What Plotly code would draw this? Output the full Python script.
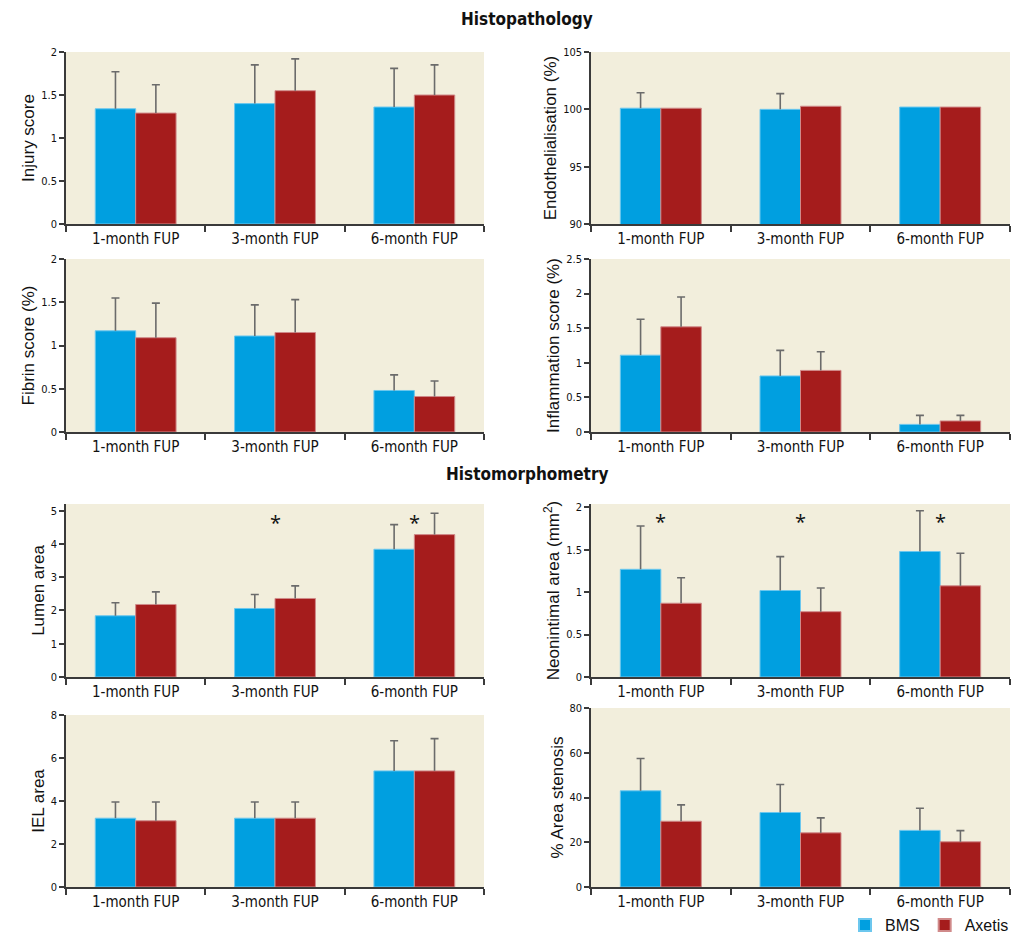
import plotly.graph_objects as go

categories = ["1-month FUP", "3-month FUP", "6-month FUP"]

# Histopathology
injury_bms = [1.34, 1.40, 1.36]
injury_bms_err = [0.43, 0.45, 0.45]
injury_axe = [1.29, 1.55, 1.50]
injury_axe_err = [0.33, 0.37, 0.35]

endo_bms = [100.1, 100.0, 100.2]
endo_bms_err = [1.35, 1.37, 0]
endo_axe = [100.1, 100.27, 100.2]
endo_axe_err = [0, 0, 0]

fibrin_bms = [1.17, 1.11, 0.48]
fibrin_bms_err = [0.38, 0.36, 0.18]
fibrin_axe = [1.09, 1.15, 0.41]
fibrin_axe_err = [0.40, 0.38, 0.18]

inflam_bms = [1.11, 0.81, 0.11]
inflam_bms_err = [0.52, 0.37, 0.13]
inflam_axe = [1.52, 0.89, 0.16]
inflam_axe_err = [0.43, 0.27, 0.08]

# Histomorphometry
lumen_bms = [1.84, 2.06, 3.84]
lumen_bms_err = [0.39, 0.42, 0.74]
lumen_axe = [2.18, 2.36, 4.28]
lumen_axe_err = [0.38, 0.38, 0.64]

neo_bms = [1.27, 1.02, 1.48]
neo_bms_err = [0.51, 0.40, 0.48]
neo_axe = [0.87, 0.77, 1.075]
neo_axe_err = [0.30, 0.28, 0.385]

iel_bms = [3.2, 3.2, 5.4]
iel_bms_err = [0.75, 0.75, 1.4]
iel_axe = [3.08, 3.2, 5.4]
iel_axe_err = [0.87, 0.75, 1.5]

sten_bms = [43.0, 33.3, 25.3]
sten_bms_err = [14.4, 12.5, 9.9]
sten_axe = [29.4, 24.2, 20.2]
sten_axe_err = [7.3, 6.7, 5.0]

panels = [
    ("Injury score", injury_bms, injury_bms_err, injury_axe, injury_axe_err, [0, 2], [0, 0.5, 1, 1.5, 2]),
    ("Endothelialisation (%)", endo_bms, endo_bms_err, endo_axe, endo_axe_err, [90, 105], [90, 95, 100, 105]),
    ("Fibrin score (%)", fibrin_bms, fibrin_bms_err, fibrin_axe, fibrin_axe_err, [0, 2], [0, 0.5, 1, 1.5, 2]),
    ("Inflammation score (%)", inflam_bms, inflam_bms_err, inflam_axe, inflam_axe_err, [0, 2.5], [0, 0.5, 1, 1.5, 2, 2.5]),
    ("Lumen area", lumen_bms, lumen_bms_err, lumen_axe, lumen_axe_err, [0, 5.2], [0, 1, 2, 3, 4, 5]),
    ("Neonintimal area (mm<sup>2</sup>)", neo_bms, neo_bms_err, neo_axe, neo_axe_err, [0, 2.04], [0, 0.5, 1, 1.5, 2]),
    ("IEL area", iel_bms, iel_bms_err, iel_axe, iel_axe_err, [0, 8], [0, 2, 4, 6, 8]),
    ("% Area stenosis", sten_bms, sten_bms_err, sten_axe, sten_axe_err, [0, 80], [0, 20, 40, 60, 80]),
]

lumen_star_cats = ["3-month FUP", "6-month FUP"]
lumen_star_y = [4.63, 4.63]
neo_star_cats = ["1-month FUP", "3-month FUP", "6-month FUP"]
neo_star_y = [1.83, 1.83, 1.83]

# page body has an 8px margin: lay out in page pixels, shifted by OFF
OFF = 8
W, H = 1033 - OFF, 939 - OFF
BLUE = "#009fe0"
RED = "#a51c1c"
BG = "#f2eedc"
AX = "#3a3a3a"
ERR = "#6b6b6b"
NARROW = "DejaVu Sans Condensed, Liberation Sans Narrow, sans-serif"
SANS = "Liberation Sans, Arial, sans-serif"

col_x = [(66, 484), (591, 1010)]
row_y = [(52, 224), (259, 432), (504, 677), (715, 887)]
row4_right = (708, 887)


def px_x(p):
    return (p - OFF) / W


def px_y(p):
    return 1 - (p - OFF) / H


fig = go.Figure()
layout = {}
for i, (title, b, be, a, ae, rng, ticks) in enumerate(panels):
    r, c = divmod(i, 2)
    n = i + 1
    xs = "" if n == 1 else str(n)
    x0, x1 = col_x[c]
    y0, y1 = row_y[r] if not (r == 3 and c == 1) else row4_right
    for name, vals, errs, color, edge in (("BMS", b, be, BLUE, "#6cc7ee"), ("Axetis", a, ae, RED, "#d08a8a")):
        # visible bar with the error whisker (no caps)
        fig.add_trace(go.Bar(
            x=categories, y=vals, name=name, offsetgroup=name,
            marker=dict(color=color, line=dict(color=edge, width=1)),
            error_y=dict(type="data", symmetric=False, array=errs, arrayminus=[0] * len(errs),
                         color=ERR, thickness=1.6, width=0),
            xaxis="x" + xs, yaxis="y" + xs, showlegend=(n == 1), legendgroup=name,
            hoverinfo="x+y"))
        # transparent bar whose zero-length error bar draws the cap at the whisker top
        tops = [v + e if e > 0 else None for v, e in zip(vals, errs)]
        fig.add_trace(go.Bar(
            x=categories, y=tops, name=name, offsetgroup=name,
            marker=dict(color="rgba(0,0,0,0)", line=dict(width=0)),
            error_y=dict(type="data", symmetric=True, array=[0] * len(errs),
                         color=ERR, thickness=1.6, width=4),
            xaxis="x" + xs, yaxis="y" + xs, showlegend=False, legendgroup=name,
            hoverinfo="skip"))
    layout["xaxis" + xs] = dict(
        domain=[px_x(x0), px_x(x1)], anchor="y" + xs, type="category", range=[-0.5, 2.5],
        showline=True, linecolor=AX, linewidth=1.5, ticks="outside", tickson="boundaries",
        ticklen=6, tickcolor=AX, tickwidth=1.5, showgrid=False, zeroline=False,
        automargin=False,
        tickfont=dict(family=NARROW, size=15, color="#111"), fixedrange=True)
    layout["yaxis" + xs] = dict(
        domain=[px_y(y1), px_y(y0)], anchor="x" + xs, range=rng, tickvals=ticks,
        showline=True, linecolor=AX, linewidth=1.5, ticks="outside", ticklen=5,
        tickcolor=AX, tickwidth=1.5, showgrid=False, zeroline=False, automargin=False,
        tickfont=dict(family=NARROW, size=11, color="#111"),
        title=dict(text=title, font=dict(family=SANS, size=17, color="#111"), standoff=2))

annotations = [
    dict(text="<b>Histopathology</b>", x=px_x(527), y=1, xref="paper", yref="paper",
         showarrow=False, font=dict(family=NARROW, size=17, color="#111"), xanchor="center", yanchor="top",
         borderpad=0),
    dict(text="<b>Histomorphometry</b>", x=px_x(527), y=px_y(474), xref="paper", yref="paper",
         showarrow=False, font=dict(family=NARROW, size=17, color="#111"), xanchor="center", yanchor="middle"),
]
for cat, yv in zip(lumen_star_cats, lumen_star_y):
    annotations.append(dict(text="*", x=cat, y=yv, xref="x5", yref="y5", showarrow=False,
                            font=dict(size=20, color="#111"), yanchor="middle"))
for cat, yv in zip(neo_star_cats, neo_star_y):
    annotations.append(dict(text="*", x=cat, y=yv, xref="x6", yref="y6", showarrow=False,
                            font=dict(size=20, color="#111"), yanchor="middle"))

fig.update_layout(
    width=W, height=H, margin=dict(l=0, r=0, t=0, b=0, pad=0, autoexpand=False),
    paper_bgcolor="white", plot_bgcolor=BG,
    barmode="group", bargap=0.42, bargroupgap=0,
    showlegend=True,
    legend=dict(orientation="h", x=px_x(1014), xanchor="right", y=px_y(925), yanchor="middle",
                font=dict(family=SANS, size=16, color="#111"),
                itemsizing="constant", traceorder="normal", bgcolor="rgba(0,0,0,0)"),
    annotations=annotations,
    **layout,
)
fig.write_html("out.html")
